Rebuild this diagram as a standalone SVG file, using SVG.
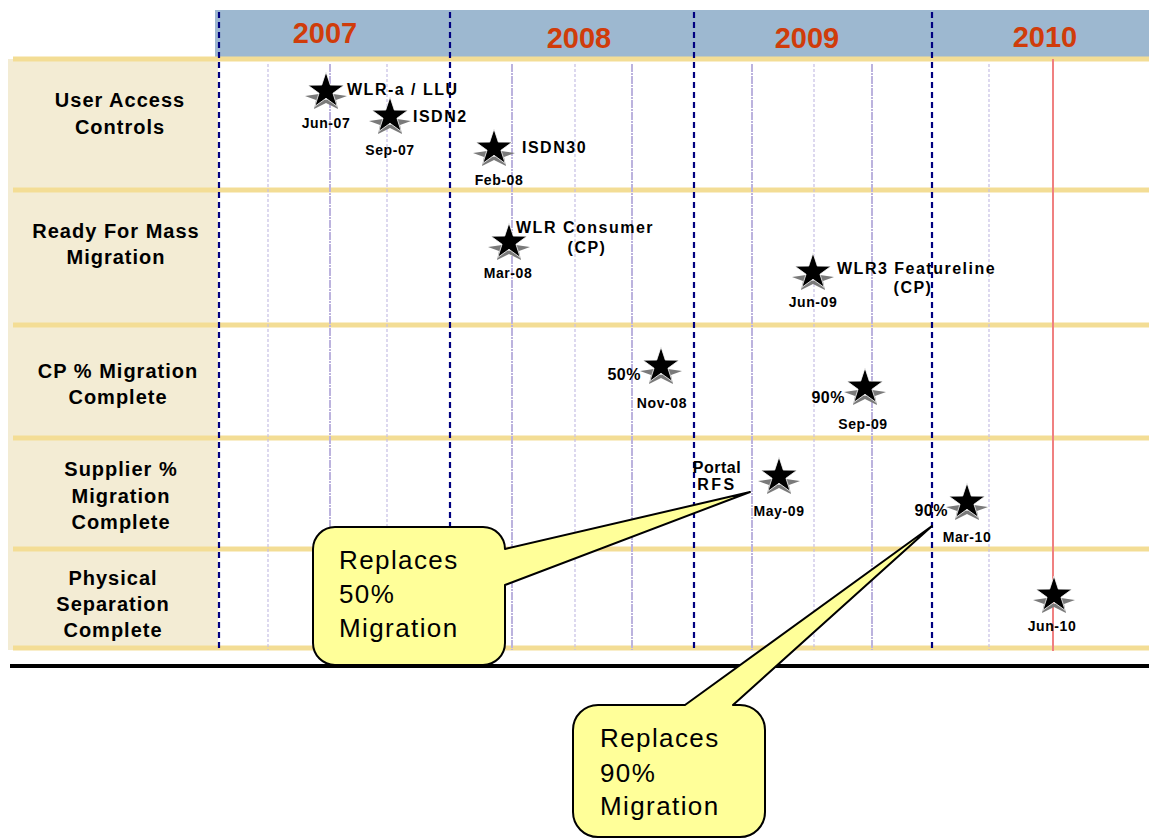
<svg xmlns="http://www.w3.org/2000/svg" xmlns:xlink="http://www.w3.org/1999/xlink" width="1149" height="838" viewBox="0 0 1149 838">
<style>
  text { font-family: "Liberation Sans", Arial, sans-serif; fill: #000; }
  .row { font-size: 20px; font-weight: bold; letter-spacing: 1px; text-anchor: middle; }
  .year { font-size: 29px; font-weight: bold; fill: #D03C0A; text-anchor: middle; }
  .title { font-size: 16px; font-weight: bold; letter-spacing: 1.5px; }
  .date { font-size: 14px; font-weight: bold; letter-spacing: 0.6px; text-anchor: middle; }
  .call { font-size: 26px; letter-spacing: 1.4px; }
  .sep { stroke: #F3DD95; stroke-width: 5; }
  .yr { stroke: #000080; stroke-width: 2.2; stroke-dasharray: 6 4; fill: none; }
  .mo1 { stroke: #BCB3DE; stroke-width: 2; stroke-dasharray: 8 1 2 1; }
  .mo2 { stroke: #C6BFE4; stroke-width: 1.2; stroke-dasharray: 3 2; }
  .bubble { fill: #FFFF99; stroke: #000; stroke-width: 2; stroke-linejoin: round; }
</style>
<defs>
  <g id="star">
    <path d="M-21,5 L-7,3 L0,9 L7,3 L21,5 L10,9 L12,18 L0,12 L-12,18 L-10,9 Z" fill="#7A7A7A"/>
    <path d="M0,-19 L4.29,-5.91 L18.07,-5.87 L6.94,2.26 L11.17,15.37 L0,7.3 L-11.17,15.37 L-6.94,2.26 L-18.07,-5.87 L-4.29,-5.91 Z" fill="#000" stroke="#fff" stroke-width="0.8"/>
  </g>
</defs>
<rect width="1149" height="838" fill="#fff"/>

<g id="background">
  <rect x="215" y="10" width="934" height="48" fill="#9DB8D0"/>
  <rect x="8" y="59" width="210" height="591" fill="#F3ECD4"/>
  <line class="sep" x1="13" y1="59" x2="1149" y2="59"/>
  <line class="sep" x1="13" y1="190" x2="1149" y2="190"/>
  <line class="sep" x1="13" y1="325" x2="1149" y2="325"/>
  <line class="sep" x1="13" y1="438" x2="1149" y2="438"/>
  <line class="sep" x1="13" y1="549" x2="1149" y2="549"/>
  <line class="sep" x1="13" y1="648" x2="1149" y2="648"/>
</g>

<g id="grid">
  <line class="mo2" x1="268" y1="64" x2="268" y2="650"/>
  <line class="mo1" x1="330" y1="64" x2="330" y2="650"/>
  <line class="mo2" x1="387" y1="64" x2="387" y2="650"/>
  <line class="mo1" x1="512" y1="64" x2="512" y2="650"/>
  <line class="mo2" x1="575" y1="64" x2="575" y2="650"/>
  <line class="mo1" x1="632" y1="64" x2="632" y2="650"/>
  <line class="mo1" x1="752" y1="64" x2="752" y2="650"/>
  <line class="mo2" x1="814" y1="64" x2="814" y2="650"/>
  <line class="mo1" x1="872" y1="64" x2="872" y2="650"/>
  <line class="mo2" x1="989" y1="64" x2="989" y2="650"/>
  <line class="yr" x1="219" y1="12" x2="219" y2="652"/>
  <line class="yr" x1="450" y1="12" x2="450" y2="652"/>
  <line class="yr" x1="694" y1="12" x2="694" y2="652"/>
  <line class="yr" x1="932" y1="12" x2="932" y2="652"/>
  <line x1="1053" y1="59" x2="1053" y2="651" stroke="#F08080" stroke-width="2"/>
  <line x1="10" y1="666" x2="1149" y2="666" stroke="#000" stroke-width="4"/>
</g>

<g id="years">
  <text class="year" x="325" y="43">2007</text>
  <text class="year" x="579" y="48">2008</text>
  <text class="year" x="807" y="48">2009</text>
  <text class="year" x="1045" y="47">2010</text>
</g>

<g id="rows">
  <text class="row" x="120" y="107">User Access</text>
  <text class="row" x="120" y="134">Controls</text>
  <text class="row" x="116" y="238">Ready For Mass</text>
  <text class="row" x="116" y="264">Migration</text>
  <text class="row" x="118" y="378">CP % Migration</text>
  <text class="row" x="118" y="404">Complete</text>
  <text class="row" x="121" y="476">Supplier %</text>
  <text class="row" x="121" y="503">Migration</text>
  <text class="row" x="121" y="529">Complete</text>
  <text class="row" x="113" y="585">Physical</text>
  <text class="row" x="113" y="611">Separation</text>
  <text class="row" x="113" y="637">Complete</text>
</g>

<g id="m-jun07">
  <use xlink:href="#star" href="#star" x="326" y="91"/>
  <text class="title" x="347" y="95">WLR-a / LLU</text>
  <text class="date" x="326" y="128">Jun-07</text>
</g>
<g id="m-sep07">
  <use xlink:href="#star" href="#star" x="390" y="116"/>
  <text class="title" x="413" y="122">ISDN2</text>
  <text class="date" x="390" y="155">Sep-07</text>
</g>
<g id="m-feb08">
  <use xlink:href="#star" href="#star" x="494" y="148"/>
  <text class="title" x="522" y="153">ISDN30</text>
  <text class="date" x="499" y="185">Feb-08</text>
</g>
<g id="m-mar08">
  <use xlink:href="#star" href="#star" x="509" y="242"/>
  <text class="title" x="516" y="233">WLR Consumer</text>
  <text class="title" x="587" y="253" text-anchor="middle">(CP)</text>
  <text class="date" x="508" y="278">Mar-08</text>
</g>
<g id="m-jun09">
  <use xlink:href="#star" href="#star" x="813" y="272"/>
  <text class="title" x="837" y="274">WLR3 Featureline</text>
  <text class="title" x="913" y="293" text-anchor="middle">(CP)</text>
  <text class="date" x="813" y="307">Jun-09</text>
</g>
<g id="m-nov08">
  <use xlink:href="#star" href="#star" x="661" y="366"/>
  <text class="title" x="641" y="380" text-anchor="end" style="letter-spacing:0.5px">50%</text>
  <text class="date" x="662" y="408">Nov-08</text>
</g>
<g id="m-sep09">
  <use xlink:href="#star" href="#star" x="865" y="387"/>
  <text class="title" x="845" y="403" text-anchor="end" style="letter-spacing:0.5px">90%</text>
  <text class="date" x="863" y="429">Sep-09</text>
</g>
<g id="m-may09">
  <use xlink:href="#star" href="#star" x="779" y="476"/>
  <text class="title" x="717" y="473" text-anchor="middle" style="letter-spacing:0.5px">Portal</text>
  <text class="title" x="717" y="490" text-anchor="middle" style="letter-spacing:2.5px">RFS</text>
  <text class="date" x="779" y="516">May-09</text>
</g>
<g id="m-mar10">
  <use xlink:href="#star" href="#star" x="967" y="502"/>
  <text class="title" x="948" y="516" text-anchor="end" style="letter-spacing:0.5px">90%</text>
  <text class="date" x="967" y="542">Mar-10</text>
</g>
<g id="m-jun10">
  <use xlink:href="#star" href="#star" x="1054" y="595"/>
  <text class="date" x="1052" y="631">Jun-10</text>
</g>

<g id="connectors">
  <g id="callout-50">
    <path class="bubble" d="M335,527 H483 A22,22 0 0 1 505,549 L750,492 L505,585 V643 A22,22 0 0 1 483,665 H335 A22,22 0 0 1 313,643 V549 A22,22 0 0 1 335,527 Z"/>
    <text class="call" x="339" y="569">Replaces</text>
    <text class="call" x="339" y="603">50%</text>
    <text class="call" x="339" y="637">Migration</text>
  </g>
  <g id="callout-90">
    <path class="bubble" d="M598,705 H685 L932,526 L733,705 H740 A25,25 0 0 1 765,730 V812 A25,25 0 0 1 740,837 H598 A25,25 0 0 1 573,812 V730 A25,25 0 0 1 598,705 Z"/>
    <text class="call" x="600" y="747">Replaces</text>
    <text class="call" x="600" y="782">90%</text>
    <text class="call" x="600" y="815">Migration</text>
  </g>
</g>
</svg>
